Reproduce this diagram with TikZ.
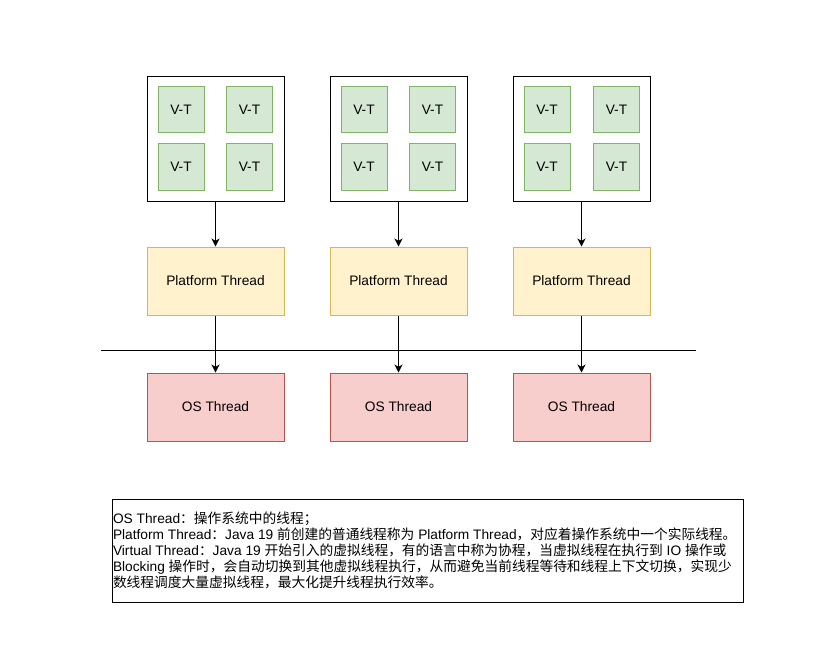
\documentclass[tikz,border=0pt]{standalone}
\usepackage{fontspec}
\setmainfont{Liberation Sans}
\newfontfamily\cjk{Noto Sans CJK SC}
\usetikzlibrary{arrows.meta}
\definecolor{d5e8d4}{HTML}{d5e8d4}
\definecolor{82b366}{HTML}{82b366}
\definecolor{fff2cc}{HTML}{fff2cc}
\definecolor{d6b656}{HTML}{d6b656}
\definecolor{f8cecc}{HTML}{f8cecc}
\definecolor{b85450}{HTML}{b85450}

\begin{document}
\begin{tikzpicture}[>={Stealth[length=6pt,width=6pt,inset=1.8pt]},x=.75pt,y=-.75pt,line width=.75pt,font=\fontsize{10.3pt}{12pt}\selectfont,
    outerbox/.style={draw,fill=white,minimum width=102.75pt,minimum height=93.75pt,inner sep=0},
    vtbox/.style={draw=82b366,fill=d5e8d4,minimum width=34.5pt,minimum height=35pt,inner sep=0},
    ptbox/.style={draw=d6b656,fill=fff2cc,minimum width=102.75pt,minimum height=51pt,inner sep=0},
    osbox/.style={draw=b85450,fill=f8cecc,minimum width=102.75pt,minimum height=51pt,inner sep=0}]
    \fill[white](0,0)rectangle(827,658);
    \useasboundingbox(0,0)rectangle(827,658);
    % virtual thread groups
    \node[outerbox](g1)at(215.5,138.5){};
    \node[vtbox](v11)at(181,109.5){V-T};
    \node[vtbox](v12)at(249.5,109.5){V-T};
    \node[vtbox](v13)at(181,167){V-T};
    \node[vtbox](v14)at(249.5,167){V-T};
    \node[outerbox](g2)at(398.5,138.5){};
    \node[vtbox](v21)at(364,109.5){V-T};
    \node[vtbox](v22)at(432.5,109.5){V-T};
    \node[vtbox](v23)at(364,167){V-T};
    \node[vtbox](v24)at(432.5,167){V-T};
    \node[outerbox](g3)at(581.5,138.5){};
    \node[vtbox](v31)at(547,109.5){V-T};
    \node[vtbox](v32)at(616.5,109.5){V-T};
    \node[vtbox](v33)at(547,167){V-T};
    \node[vtbox](v34)at(616.5,167){V-T};
    % platform threads
    \node[ptbox](p1)at(215.5,281){Platform Thread};
    \node[ptbox](p2)at(398.5,281){Platform Thread};
    \node[ptbox](p3)at(581.5,281){Platform Thread};
    % os threads
    \node[osbox](os1)at(215.5,407){OS Thread};
    \node[osbox](os2)at(398.5,407){OS Thread};
    \node[osbox](os3)at(581.5,407){OS Thread};
    % separator
    \coordinate(L)at(101,350);
    \coordinate(R)at(696,350);
    \draw(L)--(R);
    % arrows
    \draw[->](g1)--(p1);
    \draw[->](g2)--(p2);
    \draw[->](g3)--(p3);
    \draw[->](p1)--(os1);
    \draw[->](p2)--(os2);
    \draw[->](p3)--(os3);
    % notes
    \node[draw,minimum width=473.25pt,minimum height=77.25pt,inner sep=0](box)at(427.5,550.5){};
    \node[anchor=west,align=left,inner sep=.75pt](notes)at(box.west){OS Thread{\cjk ：操作系统中的线程；}\\
        Platform Thread{\cjk ：}Java 19 {\cjk 前创建的普通线程称为} Platform Thread{\cjk ，对应着操作系统中一个实际线程。}\\
        Virtual Thread{\cjk ：}Java 19 {\cjk 开始引入的虚拟线程，有的语言中称为协程，当虚拟线程在执行到} IO {\cjk 操作或}\\
        Blocking {\cjk 操作时，会自动切换到其他虚拟线程执行，从而避免当前线程等待和线程上下文切换，实现少}\\
        {\cjk 数线程调度大量虚拟线程，最大化提升线程执行效率。}};
\end{tikzpicture}
\end{document}
